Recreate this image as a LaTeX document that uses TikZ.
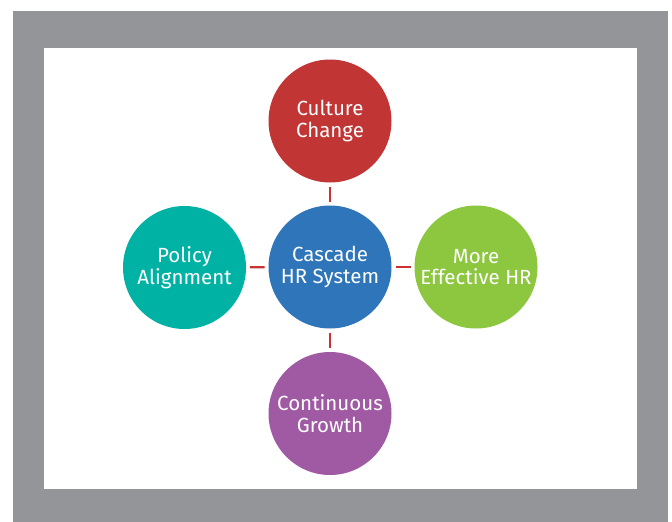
\documentclass[tikz,border=0pt]{standalone}
\usepackage{fontspec}
\setmainfont{Fira Sans}
\definecolor{framegray}{RGB}{148,149,153}
\definecolor{cred}{RGB}{193,53,52}
\definecolor{cblue}{RGB}{46,117,186}
\definecolor{cteal}{RGB}{0,178,164}
\definecolor{cgreen}{RGB}{141,198,63}
\definecolor{cpurple}{RGB}{159,90,163}
\definecolor{linkred}{RGB}{200,50,50}
\tikzset{
  bubble/.style={circle, minimum size=123pt, inner sep=0pt, text=white,
    align=center, font=\fontsize{20.5}{21.5}\selectfont, outer sep=4pt},
  link/.style={draw=linkred, line width=2.4pt}
}
\begin{document}
\begin{tikzpicture}[x=1pt,y=-1pt]
\useasboundingbox (0,0) rectangle (672,522);
\fill[framegray] (13,11) rectangle (668,522);
\fill[white] (44,48) rectangle (637,489);
\node[bubble, fill=cblue] (center) at (330,267) {Cascade\\HR System};
\node[bubble, fill=cred] (top) at (330,121) {Culture\\Change};
\node[bubble, fill=cteal] (left) at (184.5,267.5) {Policy\\Alignment};
\node[bubble, fill=cgreen] (right) at (476,267) {More\\Effective HR};
\node[bubble, fill=cpurple] (bottom) at (330,413.5) {Continuous\\Growth};
\draw[link] (top) -- (center);
\draw[link] (left) -- (center);
\draw[link] (center) -- (right);
\draw[link] (center) -- (bottom);
\end{tikzpicture}
\end{document}
